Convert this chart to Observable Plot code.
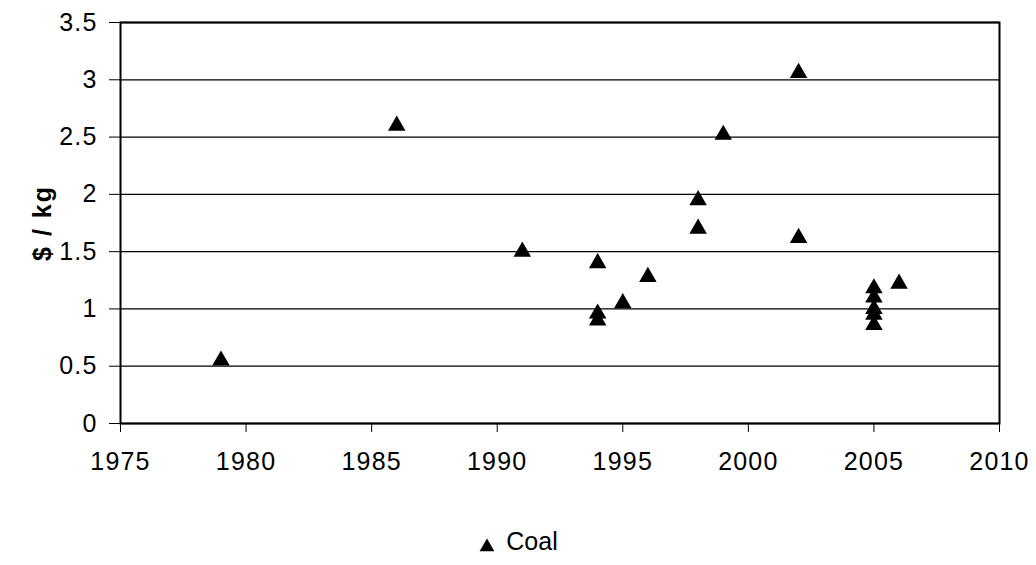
<!DOCTYPE html>
<html>
<head>
<meta charset="utf-8">
<script src="https://cdn.jsdelivr.net/npm/d3@7"></script>
<script src="https://cdn.jsdelivr.net/npm/@observablehq/plot@0.6"></script>
<style>
  body { margin: 0; background: #fff; font-family: "Liberation Sans", Arial, sans-serif; }
  #chart svg text { font-size: 25px; letter-spacing: 1.2px; }
  #chart svg text.ylabel { letter-spacing: 2px; }
  #legend { position: absolute; top: 526px; left: 0; width: 1036px; text-align: center; font-size: 25px; color: #000; }
  #legend .item { display: inline-flex; align-items: center; gap: 10px; }
  #legend svg { position: relative; top: 5px; }
</style>
</head>
<body>
<div id="chart"></div>
<div id="legend"></div>
<script>
const seriesName = "Coal";
const years = [1979, 1986, 1991, 1994, 1994, 1994, 1995, 1996, 1998, 1998, 1999, 2002, 2002, 2005, 2005, 2005, 2005, 2005, 2006];
const prices = [0.55, 2.6, 1.5, 1.4, 0.96, 0.9, 1.05, 1.28, 1.95, 1.7, 2.52, 3.06, 1.62, 1.18, 1.1, 1.0, 0.95, 0.86, 1.22];
const xTicks = [1975, 1980, 1985, 1990, 1995, 2000, 2005, 2010];
const yTicks = [0, 0.5, 1, 1.5, 2, 2.5, 3, 3.5];
const yLabel = "$ / kg";

const data = years.map((y, i) => ({year: y, price: prices[i]}));

const chart = Plot.plot({
  width: 1036,
  height: 482,
  marginLeft: 120,
  marginRight: 37,
  marginTop: 22,
  marginBottom: 59,
  style: {fontFamily: "'Liberation Sans', Arial, sans-serif", fontSize: "25px", color: "#000", background: "#fff"},
  x: {domain: [1975, 2010]},
  y: {domain: [0, 3.5]},
  marks: [
    Plot.gridY(yTicks, {stroke: "#000", strokeOpacity: 1, strokeWidth: 1.3}),
    Plot.frame({stroke: "#000", strokeWidth: 2}),
    Plot.axisX({ticks: xTicks, tickFormat: d => String(d), tickSize: 9, tickPadding: 20, label: null}),
    Plot.axisY({ticks: yTicks, tickFormat: d => String(d), tickSize: 11, tickPadding: 12, label: null}),
    Plot.text([yLabel], {frameAnchor: "left", textAnchor: "middle", dx: -78, rotate: -90, fontWeight: "bold"}),
    Plot.dot(data, {x: "year", y: "price", symbol: "triangle", r: 6.5, fill: "#000", stroke: "none"})
  ]
});
document.getElementById("chart").appendChild(chart);
chart.querySelectorAll("g[aria-label='text'] text").forEach(t => t.classList.add("ylabel"));

document.getElementById("legend").innerHTML =
  `<span class="item"><svg width="18" height="16" viewBox="-9 -9 18 16"><path d="${d3.symbol(d3.symbolTriangle, 95)()}" fill="#000"/></svg><span>${seriesName}</span></span>`;
</script>
</body>
</html>
